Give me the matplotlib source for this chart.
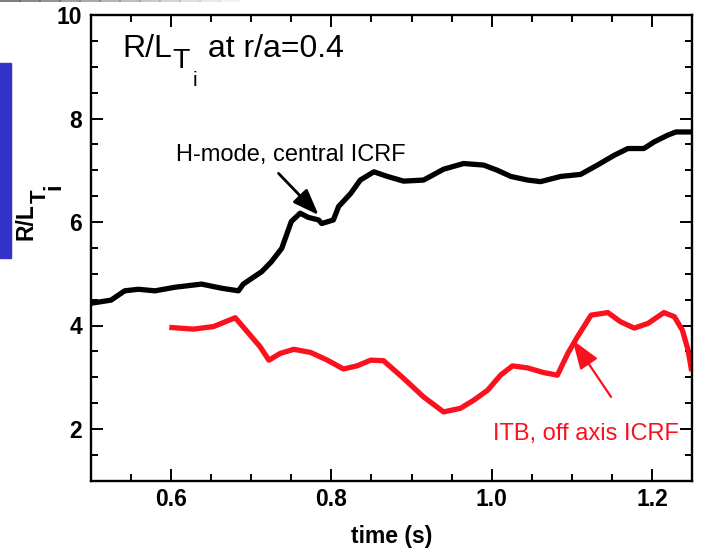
import matplotlib
matplotlib.use("Agg")
import matplotlib.pyplot as plt
from matplotlib.patches import Rectangle
from matplotlib.ticker import MultipleLocator

plt.rcParams['font.family'] = ['Liberation Sans', 'DejaVu Sans']

# H-mode, central ICRF (black)
black_t = [0.500, 0.525, 0.542, 0.559, 0.580, 0.605, 0.638, 0.663, 0.684, 0.690,
           0.713, 0.725, 0.738, 0.744, 0.750, 0.761, 0.771, 0.784, 0.788, 0.8025,
           0.809, 0.824, 0.836, 0.853, 0.870, 0.890, 0.915, 0.940, 0.965, 0.990,
           1.007, 1.024, 1.045, 1.061, 1.086, 1.111, 1.132, 1.153, 1.170, 1.190,
           1.203, 1.220, 1.230, 1.249]
black_v = [4.43, 4.49, 4.67, 4.70, 4.67, 4.74, 4.80, 4.72, 4.67, 4.80,
           5.04, 5.23, 5.49, 5.75, 6.01, 6.17, 6.09, 6.04, 5.97, 6.04,
           6.30, 6.55, 6.81, 6.97, 6.88, 6.79, 6.81, 7.02, 7.13, 7.10,
           7.00, 6.88, 6.81, 6.78, 6.88, 6.92, 7.10, 7.29, 7.42, 7.42,
           7.55, 7.68, 7.74, 7.74]

# ITB, off axis ICRF (red)
red_t = [0.601, 0.628, 0.653, 0.680, 0.695, 0.711, 0.722, 0.736, 0.753, 0.774,
         0.795, 0.815, 0.832, 0.849, 0.865, 0.890, 0.915, 0.940, 0.961, 0.978,
         0.995, 1.011, 1.026, 1.045, 1.065, 1.082, 1.095, 1.107, 1.124, 1.145,
         1.161, 1.178, 1.195, 1.215, 1.228, 1.238, 1.245, 1.249]
red_v = [3.96, 3.93, 3.98, 4.15, 3.88, 3.59, 3.33, 3.46, 3.54, 3.48,
         3.33, 3.16, 3.22, 3.33, 3.32, 2.98, 2.62, 2.33, 2.40, 2.56,
         2.75, 3.04, 3.22, 3.18, 3.09, 3.04, 3.46, 3.78, 4.20, 4.25,
         4.07, 3.95, 4.04, 4.25, 4.17, 3.91, 3.53, 3.17]

RED = '#fb101e'

fig = plt.figure(figsize=(7.02, 5.55), dpi=100)
W, H = 702, 555
ax = fig.add_axes([91 / W, 1 - 480.75 / H, 601 / W, 465.75 / H])

# stray blue bar at the left edge and grey rule at the top
fig.patches.append(Rectangle((0, 1 - 258 / H), 11 / W, 195 / H,
                             transform=fig.transFigure, color='#3232c8', zorder=0))
for i in range(12):
    fig.add_artist(plt.Line2D([i * 20 / W, (i + 1) * 20 / W], [1 - 1 / H] * 2,
                              transform=fig.transFigure, color='#555555',
                              alpha=max(0.0, 0.9 - i * 0.075), lw=1.2))

ax.plot(black_t, black_v, color='black', lw=3.8, solid_joinstyle='round')
ax.plot(red_t, red_v, color=RED, lw=3.8, solid_joinstyle='round')

ax.set_xlim(0.5, 1.25)
ax.set_ylim(1, 10)
ax.xaxis.set_minor_locator(MultipleLocator(0.05))
ax.yaxis.set_minor_locator(MultipleLocator(0.5))
ax.set_xticks([0.6, 0.8, 1.0, 1.2])
ax.set_xticklabels(['0.6', '0.8', '1.0', '1.2'])
ax.set_yticks([2, 4, 6, 8, 10])
ax.tick_params(which='both', direction='in', top=True, right=True, width=1.4)
ax.tick_params(which='major', length=8.5, labelsize=16.5)
ax.tick_params(which='minor', length=5)
ax.tick_params(axis='x', pad=5.5)
ax.tick_params(axis='y', pad=6.5)
for lab in ax.get_xticklabels() + ax.get_yticklabels():
    lab.set_fontweight('bold')
for sp in ax.spines.values():
    sp.set_linewidth(1.7)

ax.set_xlabel('time (s)', fontsize=16.5, fontweight='bold', labelpad=10)

# y label R/L_T_i built from pieces
y1 = fig.text(37.7 / W, 1 - 240 / H, 'R/L', rotation=90, ha='right', va='bottom',
              fontsize=16.5, fontweight='bold')
y2 = ax.annotate('T', xy=(1, 1), xycoords=y1, xytext=(9.5, 0), textcoords='offset points',
                 rotation=90, ha='right', va='bottom', fontsize=16, fontweight='bold',
                 annotation_clip=False)
y3 = ax.annotate('i', xy=(1, 1), xycoords=y2, xytext=(10.5, 0), textcoords='offset points',
                 rotation=90, ha='right', va='bottom', fontsize=17, fontweight='bold',
                 annotation_clip=False)

# in-plot title R/L_T_i at r/a=0.4
t1 = ax.text(0.053, 0.9105, 'R/L', transform=ax.transAxes, fontsize=23, va='baseline')
t2 = ax.annotate('T', xy=(1, 0), xycoords=t1, xytext=(0, -3.4), textcoords='offset points',
                 fontsize=20.5, va='baseline')
t3 = ax.annotate('i', xy=(1, 0), xycoords=t2, xytext=(1.5, -8), textcoords='offset points',
                 fontsize=15, va='baseline')
ax.annotate(' at r/a=0.4', xy=(1, 0), xycoords=(t3, t1), xytext=(1.5, 4.87),
            textcoords='offset points', fontsize=23, va='baseline')

# annotations
ax.text(0.749, 7.18, 'H-mode, central ICRF', fontsize=17, ha='center', va='baseline')
ax.annotate('', xy=(0.784, 6.135), xytext=(0.734, 6.94),
            arrowprops=dict(arrowstyle='-|>,head_length=0.8,head_width=0.3',
                            mutation_scale=20, lw=2, color='black',
                            shrinkA=0, shrinkB=0))
ax.text(1.1175, 1.79, 'ITB, off axis ICRF', fontsize=17, ha='center', va='baseline',
        color=RED)
ax.annotate('', xy=(1.101, 3.72), xytext=(1.149, 2.62),
            arrowprops=dict(arrowstyle='-|>,head_length=0.9,head_width=0.32',
                            mutation_scale=20, lw=1.6, color=RED,
                            shrinkA=0, shrinkB=0))

fig.savefig('out.png', dpi=100)
